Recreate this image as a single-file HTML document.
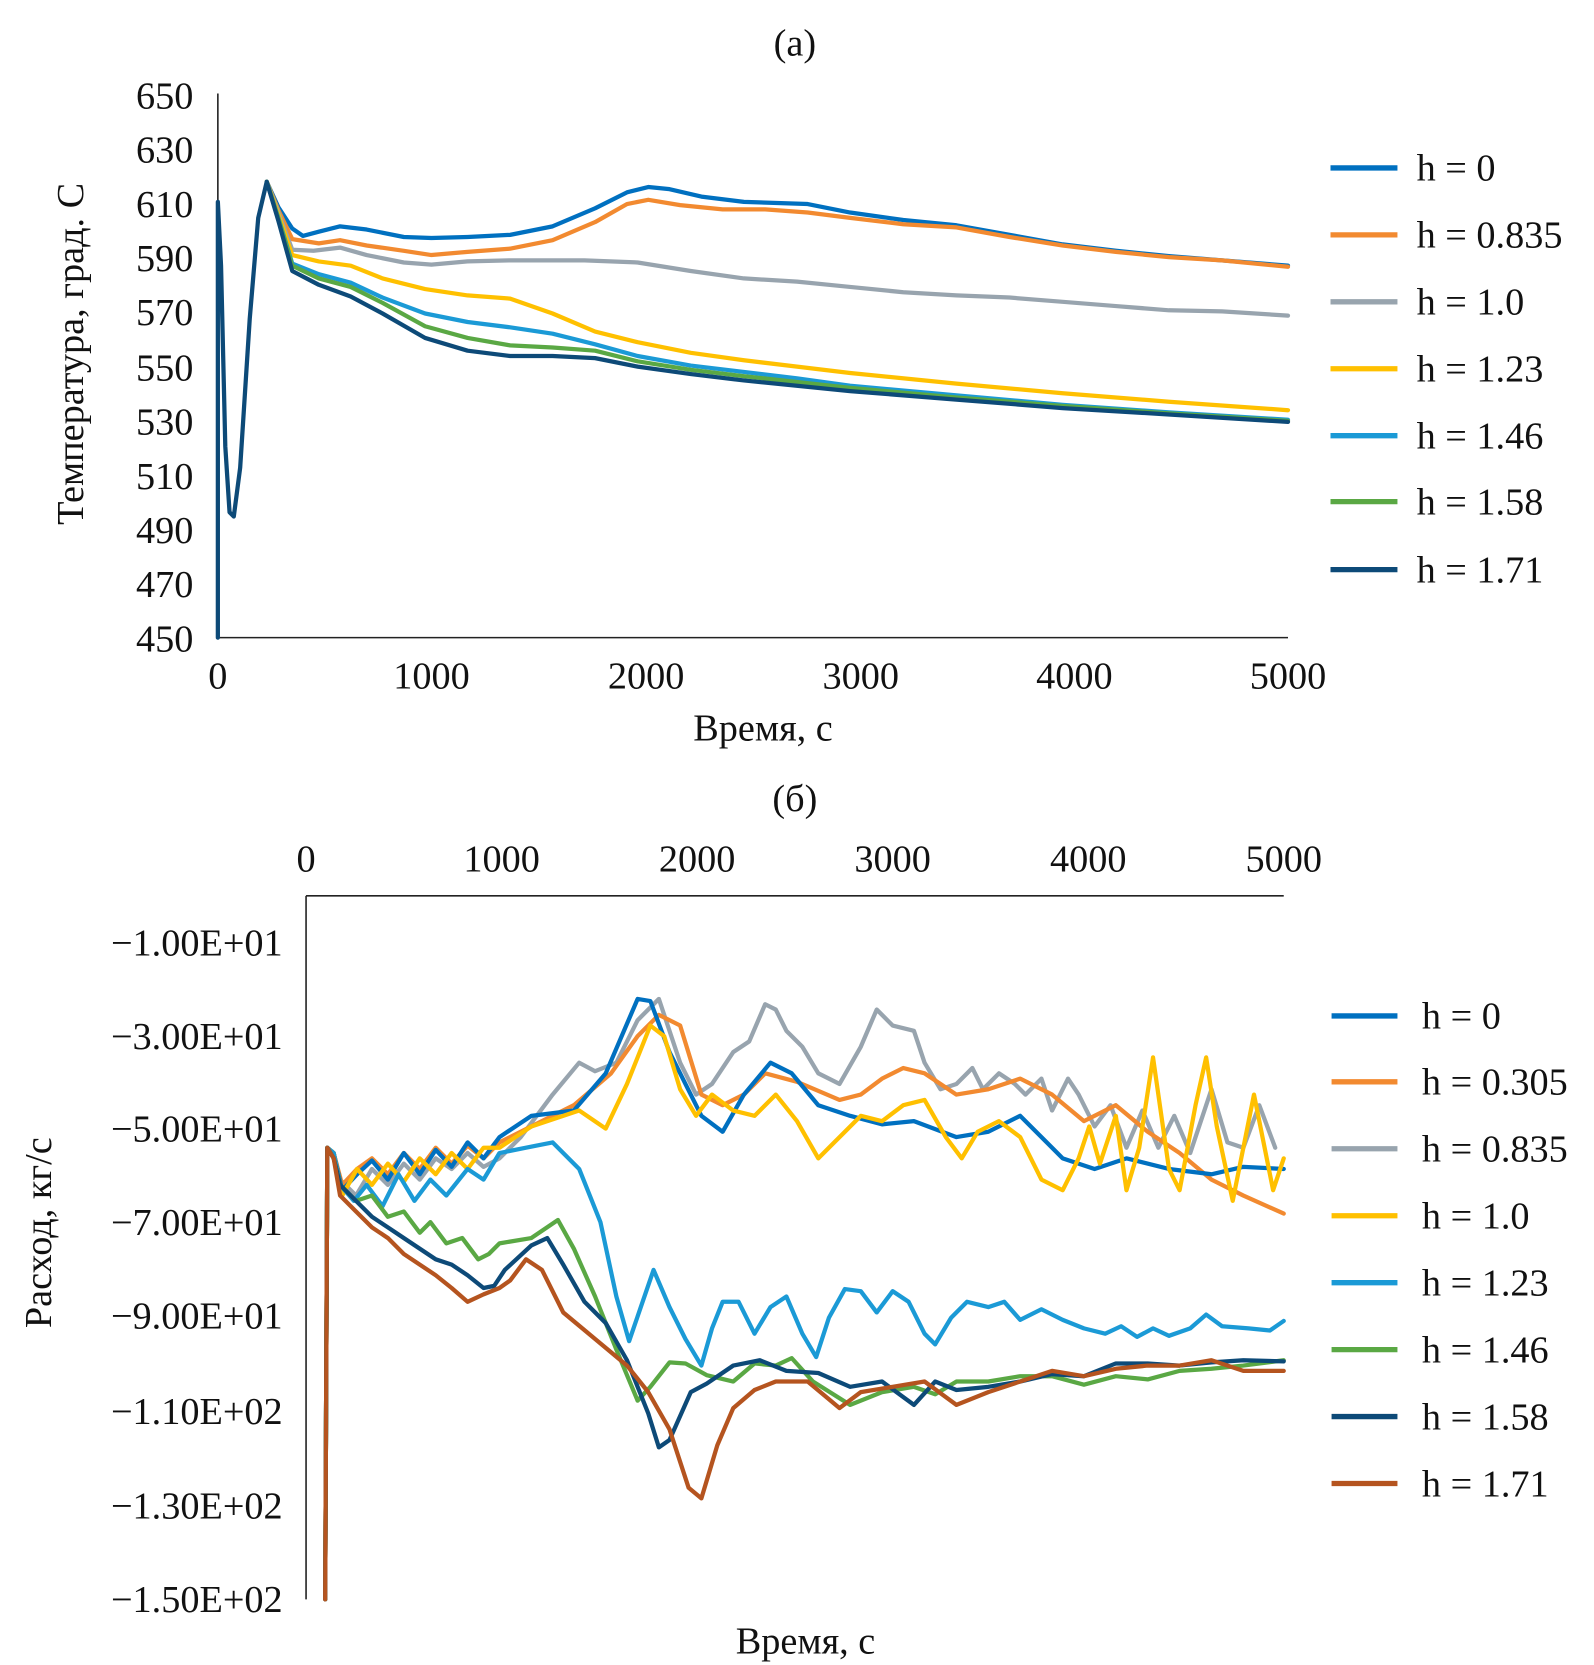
<!DOCTYPE html>
<html><head><meta charset="utf-8"><style>body{margin:0;background:#fff}svg{display:block}text{font-family:"Liberation Serif",serif;fill:#111}</style></head>
<body>
<svg width="1594" height="1665" viewBox="0 0 1594 1665" xmlns="http://www.w3.org/2000/svg">
<g transform="scale(1.0627)">
<g font-size="36">
<text x="748" y="52" text-anchor="middle">(а)</text>
<line x1="205" y1="88" x2="205" y2="600" stroke="#222" stroke-width="1.5"/>
<line x1="205" y1="600" x2="1212" y2="600" stroke="#222" stroke-width="1.5"/>
<g text-anchor="end">
<text x="182" y="102">650</text><text x="182" y="153">630</text><text x="182" y="204">610</text><text x="182" y="255">590</text><text x="182" y="306">570</text><text x="182" y="358">550</text><text x="182" y="409">530</text><text x="182" y="460">510</text><text x="182" y="511">490</text><text x="182" y="562">470</text><text x="182" y="613">450</text>
</g>
<g text-anchor="middle">
<text x="205" y="648">0</text><text x="406" y="648">1000</text><text x="608" y="648">2000</text><text x="810" y="648">3000</text><text x="1011" y="648">4000</text><text x="1212" y="648">5000</text>
<text x="718" y="697">Время, с</text>
</g>
<text transform="translate(78,333) rotate(-90)" text-anchor="middle">Температура, град. С</text>
</g>
<g fill="none" stroke-width="4" stroke-linejoin="round" stroke-linecap="round">
<polyline stroke="#0070c0" points="251,171 262,195 275,215 285,222 300,218 320,213 345,216 380,223 406,224 440,223 480,221 520,213 560,196 590,181 610,176 630,178 660,185 700,190 760,192 800,200 850,207 900,212 950,221 1000,230 1050,236 1100,241 1150,245 1212,250"/>
<polyline stroke="#f28a30" points="251,171 262,198 275,225 300,229 320,226 345,231 380,236 406,240 440,237 480,234 520,226 560,209 590,192 610,188 640,193 680,197 720,197 760,200 800,205 850,211 900,214 950,223 1000,231 1050,237 1100,242 1150,245 1212,251"/>
<polyline stroke="#98a4ae" points="251,171 262,200 275,235 295,236 320,233 345,240 380,247 406,249 440,246 480,245 550,245 600,247 650,255 700,262 750,265 800,270 850,275 900,278 950,280 1000,284 1050,288 1100,292 1150,293 1212,297"/>
<polyline stroke="#ffc000" points="251,171 262,202 275,240 300,246 330,250 360,262 400,272 440,278 480,281 520,295 560,312 600,322 650,332 700,339 750,345 800,351 900,361 1000,370 1100,378 1212,386"/>
<polyline stroke="#1b9ad6" points="251,171 262,205 275,248 300,258 330,266 360,280 400,295 440,303 480,308 520,314 560,324 600,335 650,344 700,350 750,356 800,363 900,372 1000,381 1100,388 1212,395"/>
<polyline stroke="#5aa844" points="251,171 262,206 275,250 300,262 330,270 360,285 400,307 440,318 480,325 520,327 560,330 600,340 650,348 700,354 800,365 900,374 1000,382 1100,389 1212,396"/>
<polyline stroke="#0d4a78" points="205,600 205,190 208,250 212,420 216,482 220,486 226,440 235,300 243,205 251,171 262,208 275,255 300,268 330,279 360,295 400,318 440,330 480,335 520,335 560,337 600,345 650,352 700,358 800,368 900,376 1000,384 1100,390 1212,397"/>
</g>
<g stroke-width="5">
<line x1="1252" y1="158" x2="1315" y2="158" stroke="#0070c0"/>
<line x1="1252" y1="221" x2="1315" y2="221" stroke="#f28a30"/>
<line x1="1252" y1="284" x2="1315" y2="284" stroke="#98a4ae"/>
<line x1="1252" y1="347" x2="1315" y2="347" stroke="#ffc000"/>
<line x1="1252" y1="410" x2="1315" y2="410" stroke="#1b9ad6"/>
<line x1="1252" y1="472" x2="1315" y2="472" stroke="#5aa844"/>
<line x1="1252" y1="536" x2="1315" y2="536" stroke="#0d4a78"/>
</g>
<g font-size="36">
<text x="1333" y="170">h = 0</text><text x="1333" y="233">h = 0.835</text><text x="1333" y="296">h = 1.0</text><text x="1333" y="359">h = 1.23</text><text x="1333" y="422">h = 1.46</text><text x="1333" y="484">h = 1.58</text><text x="1333" y="548">h = 1.71</text>
</g>

<g font-size="36">
<text x="748" y="763" text-anchor="middle">(б)</text>
<line x1="288" y1="843" x2="1208" y2="843" stroke="#222" stroke-width="1.5"/>
<line x1="288" y1="843" x2="288" y2="1505" stroke="#222" stroke-width="1.5"/>
<g text-anchor="middle">
<text x="288" y="820">0</text><text x="472" y="820">1000</text><text x="656" y="820">2000</text><text x="840" y="820">3000</text><text x="1024" y="820">4000</text><text x="1208" y="820">5000</text>
<text x="758" y="1556">Время, с</text>
</g>
<g text-anchor="end">
<text x="266" y="899">−1.00E+01</text><text x="266" y="987">−3.00E+01</text><text x="266" y="1074">−5.00E+01</text><text x="266" y="1162">−7.00E+01</text><text x="266" y="1250">−9.00E+01</text><text x="266" y="1340">−1.10E+02</text><text x="266" y="1429">−1.30E+02</text><text x="266" y="1517">−1.50E+02</text>
</g>
<text transform="translate(48,1160) rotate(-90)" text-anchor="middle">Расход, кг/с</text>
</g>
<g fill="none" stroke-width="4" stroke-linejoin="round" stroke-linecap="round">
<polyline stroke="#98a4ae" points="306,1505 308,1080 314,1085 320,1110 335,1125 350,1100 365,1115 380,1095 395,1110 410,1090 425,1100 440,1085 455,1098 470,1090 490,1070 520,1030 545,1000 560,1008 580,1000 600,960 620,940 640,1000 655,1030 670,1020 690,990 705,980 720,945 730,950 740,970 755,985 770,1010 790,1020 810,985 825,950 840,965 860,970 870,1000 885,1025 900,1020 915,1005 925,1025 940,1010 955,1020 965,1030 980,1015 990,1045 1005,1015 1015,1030 1030,1060 1045,1040 1060,1080 1075,1045 1090,1080 1105,1050 1120,1085 1140,1025 1155,1075 1170,1080 1185,1040 1200,1080"/>
<polyline stroke="#f28a30" points="306,1505 308,1080 314,1085 322,1115 336,1100 350,1090 365,1105 380,1085 395,1100 410,1080 425,1095 440,1078 455,1090 470,1075 500,1060 540,1040 575,1010 600,975 620,955 640,965 660,1030 680,1040 700,1030 720,1010 750,1018 790,1035 810,1030 830,1015 850,1005 870,1010 900,1030 930,1025 960,1015 990,1030 1020,1055 1050,1040 1080,1065 1110,1085 1140,1110 1170,1125 1208,1142"/>
<polyline stroke="#0070c0" points="306,1505 308,1080 314,1085 322,1120 336,1105 350,1092 365,1110 380,1085 395,1105 410,1082 425,1098 440,1075 455,1090 470,1070 500,1050 540,1045 570,1010 600,940 612,942 630,990 660,1050 680,1065 700,1030 725,1000 745,1010 770,1040 800,1050 830,1058 860,1055 900,1070 930,1065 960,1050 1000,1090 1030,1100 1060,1090 1100,1100 1140,1105 1170,1098 1208,1100"/>
<polyline stroke="#ffc000" points="306,1505 308,1080 314,1085 322,1125 336,1100 350,1115 365,1095 380,1112 395,1090 410,1105 425,1085 440,1100 455,1080 470,1080 500,1060 545,1045 570,1062 590,1020 612,965 625,975 640,1025 655,1050 670,1030 690,1045 710,1050 730,1030 750,1055 770,1090 790,1070 810,1050 830,1055 850,1040 870,1035 890,1070 905,1090 920,1065 940,1055 960,1070 980,1110 1000,1120 1015,1090 1025,1060 1035,1095 1050,1050 1060,1120 1072,1080 1085,995 1100,1100 1110,1120 1125,1040 1135,995 1145,1060 1160,1130 1170,1080 1180,1030 1190,1080 1198,1120 1208,1090"/>
<polyline stroke="#1b9ad6" points="306,1505 308,1080 314,1085 320,1115 333,1130 345,1115 360,1135 375,1105 390,1130 405,1110 420,1125 440,1100 455,1110 470,1085 495,1080 520,1075 545,1100 565,1150 580,1220 592,1262 603,1230 615,1195 630,1230 645,1260 660,1285 670,1250 680,1225 695,1225 710,1255 725,1230 740,1220 755,1255 768,1277 780,1240 795,1213 810,1215 825,1235 840,1215 855,1225 870,1255 880,1265 895,1240 910,1225 930,1230 945,1225 960,1242 980,1232 1000,1242 1020,1250 1040,1255 1055,1248 1070,1258 1085,1250 1100,1257 1120,1250 1135,1237 1150,1248 1175,1250 1195,1252 1208,1243"/>
<polyline stroke="#5aa844" points="306,1505 308,1080 314,1090 320,1115 335,1130 350,1125 365,1145 380,1140 395,1160 405,1150 420,1170 435,1165 450,1185 460,1180 470,1170 500,1165 525,1148 540,1175 560,1220 580,1270 600,1318 612,1305 630,1282 645,1283 665,1294 690,1300 710,1283 730,1285 745,1278 765,1300 800,1322 830,1310 860,1305 880,1312 900,1300 930,1300 960,1295 990,1295 1020,1303 1050,1295 1080,1298 1110,1290 1140,1288 1170,1285 1208,1280"/>
<polyline stroke="#0d4a78" points="306,1505 308,1080 314,1090 320,1115 335,1130 350,1145 365,1155 380,1165 395,1175 410,1185 425,1190 440,1200 455,1212 465,1210 475,1195 500,1172 515,1165 530,1190 550,1225 570,1245 590,1280 610,1330 620,1362 630,1355 650,1310 665,1302 690,1285 715,1280 740,1290 770,1292 800,1305 830,1300 860,1322 880,1300 900,1308 930,1305 960,1300 990,1293 1020,1295 1050,1283 1080,1283 1110,1285 1140,1282 1170,1280 1208,1281"/>
<polyline stroke="#b5541f" points="306,1505 308,1080 314,1090 320,1125 335,1140 350,1155 365,1165 380,1180 395,1190 410,1200 425,1212 440,1225 455,1218 470,1212 480,1205 495,1185 510,1195 530,1235 560,1260 590,1285 610,1310 630,1345 648,1400 660,1410 675,1360 690,1325 710,1308 730,1300 760,1300 790,1325 810,1310 840,1305 870,1300 900,1322 930,1310 960,1300 990,1290 1020,1295 1050,1288 1080,1285 1110,1285 1140,1280 1170,1290 1208,1290"/>
</g>
<g stroke-width="5">
<line x1="1253" y1="956" x2="1315" y2="956" stroke="#0070c0"/>
<line x1="1253" y1="1018" x2="1315" y2="1018" stroke="#f28a30"/>
<line x1="1253" y1="1081" x2="1315" y2="1081" stroke="#98a4ae"/>
<line x1="1253" y1="1144" x2="1315" y2="1144" stroke="#ffc000"/>
<line x1="1253" y1="1207" x2="1315" y2="1207" stroke="#1b9ad6"/>
<line x1="1253" y1="1270" x2="1315" y2="1270" stroke="#5aa844"/>
<line x1="1253" y1="1333" x2="1315" y2="1333" stroke="#0d4a78"/>
<line x1="1253" y1="1396" x2="1315" y2="1396" stroke="#b5541f"/>
</g>
<g font-size="36">
<text x="1338" y="968">h = 0</text><text x="1338" y="1030">h = 0.305</text><text x="1338" y="1093">h = 0.835</text><text x="1338" y="1156">h = 1.0</text><text x="1338" y="1219">h = 1.23</text><text x="1338" y="1282">h = 1.46</text><text x="1338" y="1345">h = 1.58</text><text x="1338" y="1408">h = 1.71</text>
</g>
</g>
</svg>
</body></html>
